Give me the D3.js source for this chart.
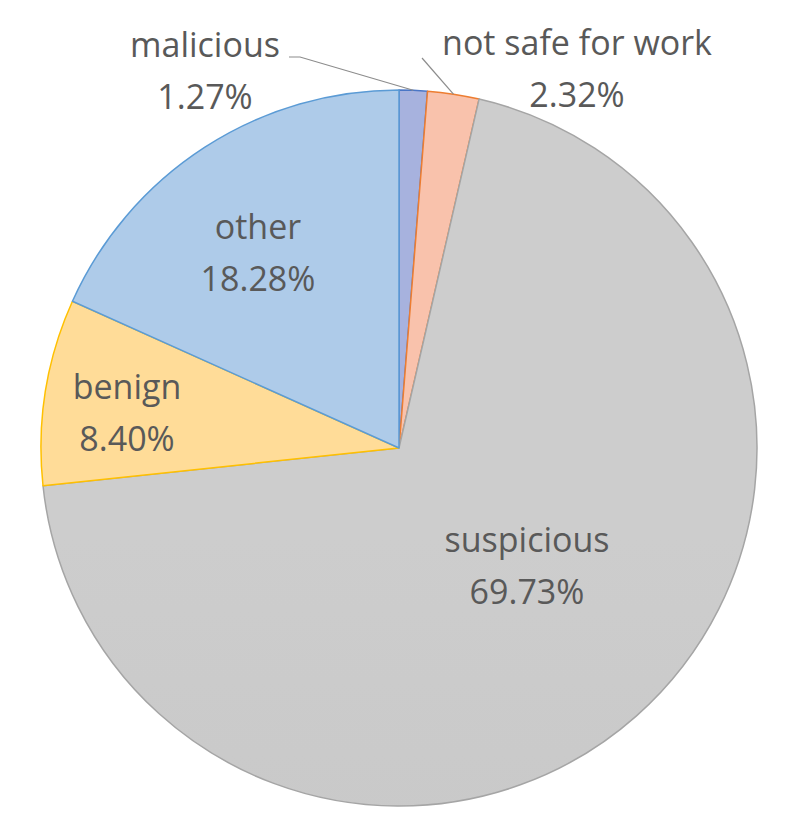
<!DOCTYPE html>
<html><head><meta charset="utf-8">
<script src="https://cdn.jsdelivr.net/npm/d3@7"></script>
<style>body{margin:0;background:#fff}svg{display:block}</style>
</head><body>
<script>
const categories = ["malicious", "not safe for work", "suspicious", "benign", "other"];
const values = [1.27, 2.32, 69.73, 8.40, 18.28];
const labels = ["1.27%", "2.32%", "69.73%", "8.40%", "18.28%"];
const fillTop = ["#A7B2DE", "#F9C2AC", "#CDCDCD", "#FFDC98", "#AECBE9"];
const fillBot = ["#95A2D6", "#F6B096", "#C3C3C3", "#FFD27E", "#8DB5E0"];
const strokes = ["#4A76C6", "#ED7D31", "#A5A5A5", "#FFC000", "#5B9BD5"];

const W = 800, H = 825, cx = 399, cy = 448, R = 358;
const svg = d3.select("body").append("svg").attr("width", W).attr("height", H);
const defs = svg.append("defs");
categories.forEach((c, i) => {
  const g = defs.append("linearGradient").attr("id", "g" + i)
    .attr("gradientUnits", "userSpaceOnUse")
    .attr("x1", 0).attr("y1", cy - R).attr("x2", 0).attr("y2", cy + R);
  g.append("stop").attr("offset", "0%").attr("stop-color", fillTop[i]);
  g.append("stop").attr("offset", "100%").attr("stop-color", fillBot[i]);
});

const pie = d3.pie().sort(null).value(d => d)(values);
const arc = d3.arc().innerRadius(0).outerRadius(R);
const g = svg.append("g").attr("transform", `translate(${cx},${cy})`);
g.selectAll("path").data(pie).enter().append("path")
  .attr("d", arc)
  .attr("fill", (d, i) => `url(#g${i})`)
  .attr("stroke", (d, i) => strokes[i])
  .attr("stroke-width", 1.5)
  .attr("stroke-linejoin", "round");

// label positions (relative offsets from centroid direction)
const labelPos = [
  [205, 45], [577, 43], [527, 540], [127, 387], [258, 227]
];
const font = "'Open Sans', sans-serif";
const lab = svg.append("g");
pie.forEach((d, i) => {
  const [x, y] = labelPos[i];
  const t = lab.append("text").attr("x", x).attr("y", y)
    .attr("text-anchor", "middle").attr("font-family", font)
    .attr("font-size", 34).attr("fill", "#595959");
  t.append("tspan").attr("x", x).attr("dy", "0.35em").text(categories[i]);
  t.append("tspan").attr("x", x).attr("dy", 52).text(labels[i]);
});

// leader lines for small slices
function edgePoint(d) {
  const a = (d.startAngle + d.endAngle) / 2;
  return [cx + R * Math.sin(a), cy - R * Math.cos(a)];
}
const p0 = edgePoint(pie[0]);
svg.append("polyline")
  .attr("points", [[289, 57], [300, 57], p0].map(p => p.join(",")).join(" "))
  .attr("fill", "none").attr("stroke", "#8c8c8c").attr("stroke-width", 1.2);
const p1 = edgePoint(pie[1]);
svg.append("polyline")
  .attr("points", [[422, 58], p1].map(p => p.join(",")).join(" "))
  .attr("fill", "none").attr("stroke", "#8c8c8c").attr("stroke-width", 1.2);
</script>
</body></html>
